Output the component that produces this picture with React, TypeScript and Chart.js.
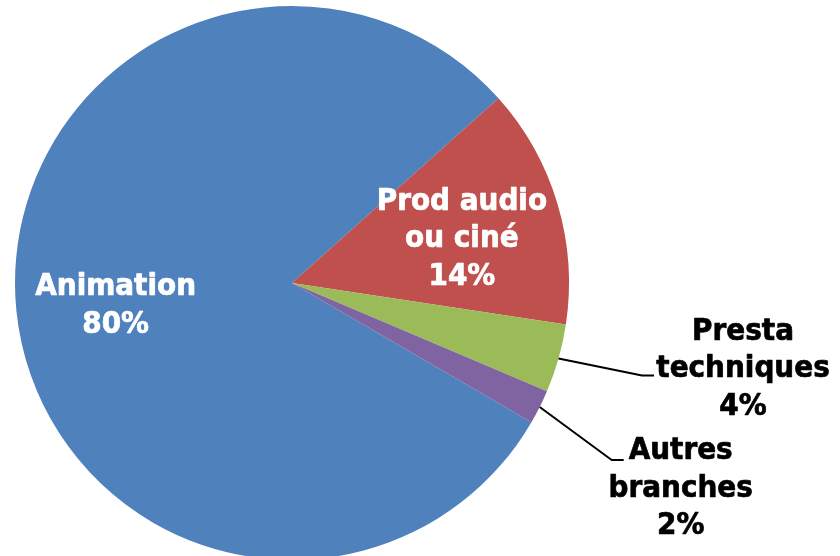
import React, { useEffect, useRef } from "react";
import { Chart, registerables } from "chart.js";

Chart.register(...registerables);

const categories = ["Animation", "Prod audio ou ciné", "Presta techniques", "Autres branches"];
const labelLines = [["Animation", "80%"], ["Prod audio", "ou ciné", "14%"], ["Presta", "techniques", "4%"], ["Autres", "branches", "2%"]];
const values = [80, 14, 4, 2];
const colors = ["#4F81BD", "#C0504D", "#9BBB59", "#8064A2"];

const FONT = 'bold 31px "DejaVu Sans Condensed", "DejaVu Sans", Verdana, sans-serif';
const LINE_H = 37.5;
const BASELINE_SHIFT = 13;

// placement of labels: inside (radius fraction) or outside (offsets from the arc edge)
const labelPlacement: any[] = [
  { inside: true, frac: 0.64, dy: 0 },
  { inside: true, frac: 0.64, dy: 2 },
  { inside: false, elbow: [83.5, 17], end: [95.5, 17], text: [184.5, 6] },
  { inside: false, elbow: [72, 53], end: [84, 53], text: [141, 76.5] },
];

const labelPlugin = {
  id: "pieLabels",
  afterDatasetsDraw(chart: any) {
    const ctx = chart.ctx;
    const meta = chart.getDatasetMeta(0);
    ctx.save();
    ctx.font = FONT;
    ctx.textAlign = "center";
    ctx.textBaseline = "alphabetic";
    ctx.lineJoin = "round";
    meta.data.forEach((arc: any, i: number) => {
      const { x, y, startAngle, endAngle, outerRadius } = arc.getProps(["x", "y", "startAngle", "endAngle", "outerRadius"], true);
      const mid = (startAngle + endAngle) / 2;
      const p = labelPlacement[i];
      const lines = labelLines[i];
      let cx: number, cy: number, color: string;
      if (p.inside) {
        cx = x + Math.cos(mid) * outerRadius * p.frac;
        cy = y + Math.sin(mid) * outerRadius * p.frac + p.dy;
        color = "#FFFFFF";
      } else {
        const ex = x + Math.cos(mid) * outerRadius;
        const ey = y + Math.sin(mid) * outerRadius;
        ctx.strokeStyle = "#000000";
        ctx.lineWidth = 2;
        ctx.beginPath();
        ctx.moveTo(ex, ey);
        ctx.lineTo(ex + p.elbow[0], ey + p.elbow[1]);
        ctx.lineTo(ex + p.end[0], ey + p.end[1]);
        ctx.stroke();
        cx = ex + p.text[0];
        cy = ey + p.text[1];
        color = "#000000";
      }
      ctx.fillStyle = color;
      ctx.strokeStyle = color;
      ctx.lineWidth = 0.7;
      const top = cy + BASELINE_SHIFT - ((lines.length - 1) * LINE_H) / 2;
      lines.forEach((t: string, k: number) => {
        ctx.fillText(t, cx, top + k * LINE_H);
        ctx.strokeText(t, cx, top + k * LINE_H);
      });
    });
    ctx.restore();
  },
};

export default function App() {
  const ref = useRef<HTMLCanvasElement>(null);
  useEffect(() => {
    document.body.style.margin = "0";
    const chart = new Chart(ref.current!, {
      type: "pie",
      data: {
        labels: categories,
        datasets: [
          {
            data: values,
            backgroundColor: colors,
            borderColor: colors,
            borderWidth: 0,
          },
        ],
      },
      options: {
        animation: false,
        responsive: false,
        rotation: 120.2,
        layout: { padding: { left: 15, right: 271, top: 6, bottom: 10 } },
        plugins: { legend: { display: false }, tooltip: { enabled: false } },
      },
      plugins: [labelPlugin],
    });
    return () => chart.destroy();
  }, []);
  return (
    <div style={{ position: "absolute", left: 0, top: 0, width: 840, height: 556, overflow: "hidden", background: "#fff" }}>
      <canvas ref={ref} width={840} height={570} style={{ width: 840, height: 570, display: "block" }} />
    </div>
  );
}
